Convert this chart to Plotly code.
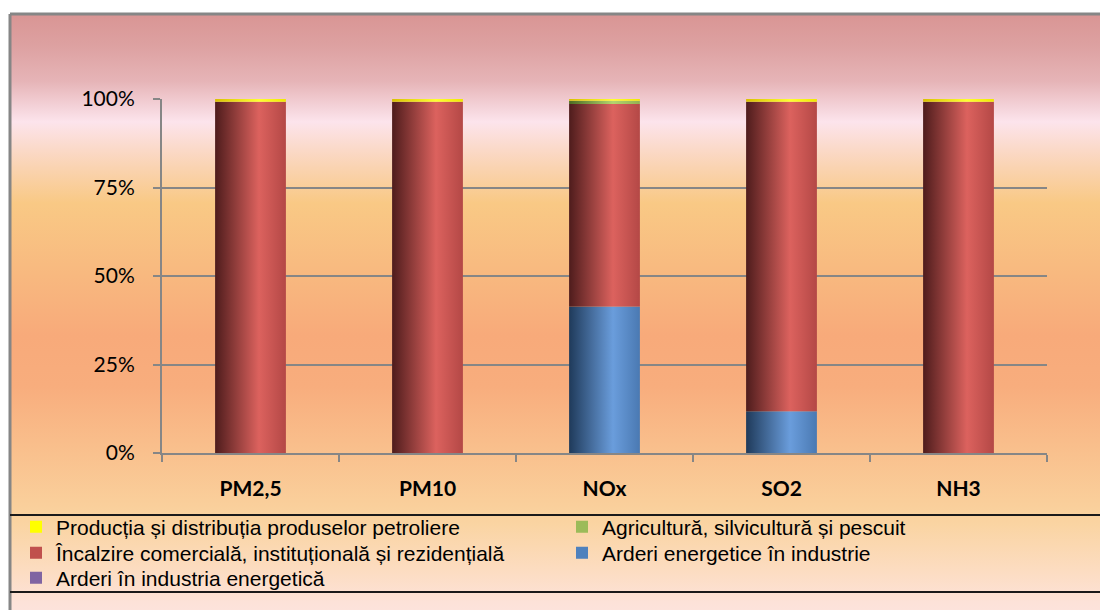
import base64
import plotly.graph_objects as go

# categories and shares (percent of total emissions per pollutant)
categories = ["PM2,5", "PM10", "NOx", "SO2", "NH3"]
arderi_ind_energetica = [0.0, 0.0, 0.0, 0.0, 0.0]
arderi_industrie = [0.0, 0.0, 41.4, 11.8, 0.0]
incalzire = [99.2, 99.2, 57.2, 87.4, 99.2]
agricultura = [0.0, 0.0, 0.9, 0.0, 0.0]
productie = [0.8, 0.8, 0.5, 0.8, 0.8]

# stacking order bottom -> top: (name, values, flat colour, gradient colours)
series = [
    ("Arderi în industria energetică", arderi_ind_energetica, "#8064A2",
     ["#3a2b4d", "#9a7fc0", "#7a5f9c"]),
    ("Arderi energetice în industrie", arderi_industrie, "#4F81BD",
     ["#1f3a5a", "#6a9ddc", "#4a79b2"]),
    ("Încalzire comercială, instituțională și rezidențială", incalzire, "#C0504D",
     ["#4e1c1c", "#dc625e", "#b44846"]),
    ("Agricultură, silvicultură și pescuit", agricultura, "#9BBB59",
     ["#4c6b22", "#b4d46e", "#93b052"]),
    ("Producția și distribuția produselor petroliere", productie, "#FFFF00",
     ["#d8c000", "#ffff30", "#f0e800"]),
]
# legend layout: series index -> (column, row)
legend_slots = {4: (0, 0), 3: (1, 0), 2: (0, 1), 1: (1, 1), 0: (0, 2)}

W, H = 1108, 610
OFF = 8  # page body margin: figure is drawn 8px right/down of the window corner
L, R, T, B = 162 - OFF, 1047 - OFF, 99 - OFF, 453 - OFF
BAR_W = 0.4

totals = [sum(s[1][i] for s in series) for i in range(len(categories))]

fig = go.Figure()

# bars as filled polygons with a horizontal gradient
base = [0.0] * len(categories)
for name, vals, col, grad in series:
    for i, v in enumerate(vals):
        share = v / totals[i]
        if share > 0:
            y0, y1 = base[i], base[i] + share
            x0, x1 = i - BAR_W / 2, i + BAR_W / 2
            fig.add_trace(go.Scatter(
                x=[x0, x1, x1, x0, x0], y=[y0, y0, y1, y1, y0],
                mode="lines", line=dict(width=0), fill="toself",
                fillgradient=dict(type="horizontal",
                                  colorscale=[[0, grad[0]], [0.62, grad[1]], [1, grad[2]]]),
                showlegend=False, hoverinfo="skip"))
            base[i] += share

# legend entries, one small legend per slot so the 2-column grid can be placed exactly
col_x = [16, 562]
row_y = [527, 553, 578]
legend_font = dict(family="Liberation Sans, Arial", size=21, color="black")
legends = {}
for n, k in enumerate([4, 3, 2, 1, 0]):
    name, vals, col, grad = series[k]
    c, r = legend_slots[k]
    lg = "legend" if n == 0 else "legend%d" % (n + 1)
    fig.add_trace(go.Scatter(x=[None], y=[None], mode="markers", name=name, legend=lg,
                             marker=dict(symbol="square", size=12, color=col, line=dict(width=0))))
    legends[lg] = dict(xref="container", yref="container",
                       x=(col_x[c] - OFF) / W, y=1 - (row_y[r] - OFF) / H,
                       xanchor="left", yanchor="middle", itemwidth=30,
                       font=legend_font, bgcolor="rgba(0,0,0,0)", borderwidth=0)

# background gradient
stops = [(0, "#D99594"), (0.052, "#DDA1A1"), (0.111, "#E6B4B7"), (0.178, "#FCE4EC"),
         (0.22, "#FBDACB"), (0.255, "#FAD3B0"), (0.312, "#F9C985"), (0.413, "#F8BB80"),
         (0.53, "#F8AA7A"), (0.614, "#F8AD7D"), (0.715, "#F9BF8C"), (0.815, "#FAD09C"),
         (0.841, "#FAD4A2"), (0.916, "#FCDCC0"), (0.97, "#FDE2D8"), (1, "#FDE4E0")]
svg = ('<svg xmlns="http://www.w3.org/2000/svg" width="100" height="600" preserveAspectRatio="none">'
       '<defs><linearGradient id="g" x1="0" y1="0" x2="0" y2="1">'
       + "".join('<stop offset="%g" stop-color="%s"/>' % s for s in stops)
       + '</linearGradient></defs><rect width="100" height="600" fill="url(#g)"/></svg>')
src = "data:image/svg+xml;base64," + base64.b64encode(svg.encode()).decode()

pw, ph = R - L, B - T
px = lambda x: (x - OFF - L) / pw   # screen px -> paper
py = lambda y: (B - (y - OFF)) / ph

fig.add_layout_image(dict(source=src, xref="paper", yref="paper",
                          x=px(10), y=py(14), sizex=(W + 20 - 10) / pw, sizey=(H + 10 - 14) / ph,
                          xanchor="left", yanchor="top", sizing="stretch", layer="below"))

# frame and legend box lines
fig.add_shape(type="line", xref="paper", yref="paper", x0=px(10), x1=px(W + 30),
              y0=py(14), y1=py(14), line=dict(color="#868686", width=3))
fig.add_shape(type="line", xref="paper", yref="paper", x0=px(10), x1=px(10),
              y0=py(14), y1=py(H + 20), line=dict(color="#868686", width=3))
for yy in (515, 592):
    fig.add_shape(type="line", xref="paper", yref="paper", x0=px(10), x1=px(W + 30),
                  y0=py(yy), y1=py(yy), line=dict(color="#1a1a1a", width=2))

fig.update_layout(
    width=W, height=H, autosize=False,
    margin=dict(l=L, r=W - R, t=T, b=H - B, autoexpand=False),
    paper_bgcolor="white", plot_bgcolor="rgba(0,0,0,0)",
    showlegend=True,
    xaxis=dict(range=[-0.5, 4.5], tickvals=list(range(len(categories))), ticktext=categories,
               ticks="", showgrid=False, zeroline=False,
               showline=True, linecolor="#868686", linewidth=2,
               tickfont=dict(family="Lato", size=21, color="black", weight="bold"),
               ticklabelstandoff=16,
               minor=dict(tickvals=[i - 0.5 for i in range(len(categories) + 1)],
                          ticks="outside", ticklen=7, tickwidth=2, tickcolor="#868686",
                          showgrid=False)),
    yaxis=dict(range=[0, 1], tickvals=[0, 0.25, 0.5, 0.75, 1], tickformat=".0%",
               ticks="outside", ticklen=7, tickwidth=2, tickcolor="#868686",
               showgrid=True, gridcolor="#868686", gridwidth=2, zeroline=False,
               showline=True, linecolor="#868686", linewidth=2,
               tickfont=dict(family="Lato", size=21, color="black"),
               ticklabelstandoff=14),
    **legends,
)

fig.write_html("out.html")
